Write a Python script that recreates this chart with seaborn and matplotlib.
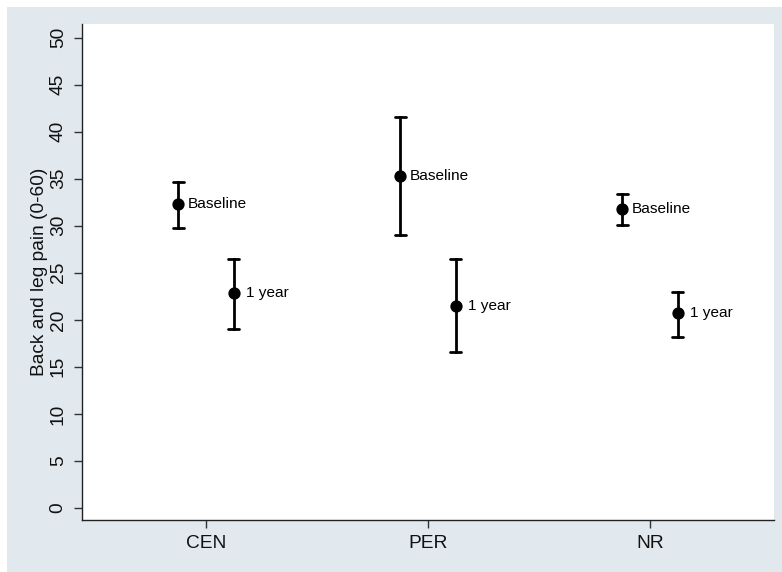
import matplotlib
matplotlib.use("Agg")
import matplotlib.pyplot as plt
from matplotlib.patches import Rectangle
import seaborn as sns
import pandas as pd

# ---- data ----
groups = ["CEN", "PER", "NR"]
times = ["Baseline", "1 year"]
baseline_mean = [32.3, 35.3, 31.8]
baseline_low = [29.8, 29.0, 30.1]
baseline_high = [34.7, 41.6, 33.4]
year1_mean = [22.8, 21.5, 20.7]
year1_low = [19.0, 16.6, 18.2]
year1_high = [26.5, 26.5, 23.0]
y_ticks = [0, 5, 10, 15, 20, 25, 30, 35, 40, 45, 50]
y_label = "Back and leg pain (0-60)"

# long table: low / mean / high per point -> median = mean, 100% interval = CI
rows = []
for t, means, lows, highs in [
    ("Baseline", baseline_mean, baseline_low, baseline_high),
    ("1 year", year1_mean, year1_low, year1_high),
]:
    for g, m, lo, hi in zip(groups, means, lows, highs):
        for v in (lo, m, hi):
            rows.append({"group": g, "time": t, "value": v})
df = pd.DataFrame(rows)

sns.set_theme(style="white")
plt.rcParams["font.family"] = ["Liberation Sans", "DejaVu Sans"]

BG = "#E1E9EF"
fig = plt.figure(figsize=(7.82, 5.72), dpi=100, facecolor="white")
fig.patches.append(Rectangle((7 / 782, 0), 1 - 7 / 782, 1 - 7 / 572,
                             transform=fig.transFigure, facecolor=BG,
                             edgecolor="none", zorder=-10))
ax = fig.add_axes([82 / 782, 1 - 520 / 572, (774 - 82) / 782, (520 - 24) / 572])
ax.set_facecolor("white")

dodge = 0.25
sns.pointplot(data=df, x="group", y="value", hue="time", order=groups,
              hue_order=times, estimator="median", errorbar=("pi", 100),
              dodge=dodge, palette=["black", "black"], linestyle="none",
              marker="o", markersize=6.8, capsize=0.05,
              err_kws={"linewidth": 2.0}, legend=False, ax=ax)

# labels next to the points
offsets = {"Baseline": 7, "1 year": 9}
for ti, (t, means) in enumerate([("Baseline", baseline_mean), ("1 year", year1_mean)]):
    shift = -dodge / 2 if ti == 0 else dodge / 2
    for gi, m in enumerate(means):
        ax.annotate(t, xy=(gi + shift, m), xytext=(offsets[t], 0),
                    textcoords="offset points", ha="left", va="center",
                    fontsize=11.1, color="black")

ax.set_xlim(-0.559, 2.559)
ax.set_ylim(-1.28, 51.45)
ax.set_yticks(y_ticks)
ax.set_yticklabels([str(v) for v in y_ticks], rotation=90, va="center")
ax.set_xlabel("")
ax.set_ylabel(y_label, fontsize=13.8, labelpad=1, color="#111111")

for s in ["top", "right"]:
    ax.spines[s].set_visible(False)
for s in ["left", "bottom"]:
    ax.spines[s].set_color("#222222")
    ax.spines[s].set_linewidth(1.0)

ax.tick_params(axis="both", direction="out", length=6, width=1,
               color="#333333", labelsize=13.8, labelcolor="#111111",
               left=True, bottom=True)
ax.tick_params(axis="x", pad=5)
ax.tick_params(axis="y", pad=5)

fig.savefig("out.png", dpi=100, facecolor="white")
